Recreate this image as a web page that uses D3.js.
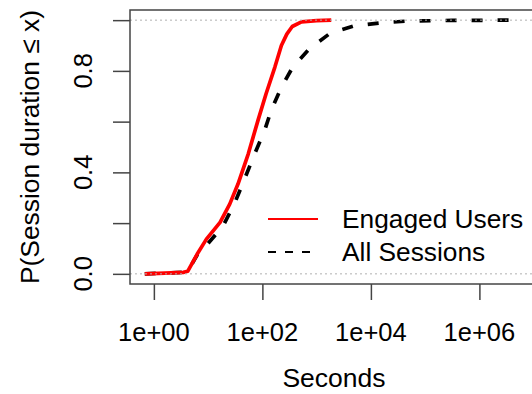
<!DOCTYPE html>
<html>
<head>
<meta charset="utf-8">
<script src="https://cdn.jsdelivr.net/npm/d3@7"></script>
<style>
  body { margin: 0; background: #fff; }
  svg text { font-family: "Liberation Sans", Arial, Helvetica, sans-serif; fill: #000; }
</style>
</head>
<body>
<svg id="chart" width="532" height="394"></svg>
<script>
// session length in seconds vs cumulative share
var engagedSecs = [0.68, 1.6, 3.5, 4.2, 6.3, 9.3, 16.6, 25, 35.5, 55, 83, 117, 170, 224, 282, 355, 525, 1000, 1860];
var engagedP    = [0, 0.003, 0.006, 0.01, 0.078, 0.137, 0.203, 0.275, 0.354, 0.473, 0.605, 0.71, 0.815, 0.9, 0.945, 0.975, 0.993, 0.998, 1.0];

var allSecs = [0.68, 3.5, 4.2, 6.3, 10, 19, 31, 47, 72, 110, 145, 224, 363, 741, 1740, 4680, 14500, 44700, 316000, 4200000];
var allP    = [0, 0.006, 0.01, 0.075, 0.12, 0.19, 0.28, 0.374, 0.473, 0.565, 0.644, 0.736, 0.815, 0.888, 0.947, 0.976, 0.989, 0.996, 0.999, 1.0];

var xTicks = [1, 100, 1e4, 1e6];
var xTickLabels = ["1e+00", "1e+02", "1e+04", "1e+06"];
var yTicks = [0, 0.2, 0.4, 0.6, 0.8, 1.0];
var yTickLabels = ["0.0", "", "0.4", "", "0.8", ""];
var seriesNames = ["Engaged Users", "All Sessions"];

var svg = d3.select("#chart");
// plot box (note: "top" is reserved on window, so use a margin object)
var box = { left: 130, right: 538, top: 10, bottom: 284 };
var fontSize = 25.5;

var x = d3.scaleLog().domain([Math.pow(10, -0.44), Math.pow(10, 7.08)]).range([box.left, box.right]);
var y = d3.scaleLinear().domain([-0.04, 1.04]).range([box.bottom, box.top]);

var line = d3.line().x(d => x(d[0])).y(d => y(d[1]));

var allData = allSecs.map((s, i) => [s, allP[i]]);
var engagedData = engagedSecs.map((s, i) => [s, engagedP[i]]);

svg.append("path")
  .datum(allData)
  .attr("d", line)
  .attr("fill", "none")
  .attr("stroke", "#000")
  .attr("stroke-width", 3.7)
  .attr("stroke-dasharray", "11,15");

svg.append("path")
  .datum(engagedData)
  .attr("d", line)
  .attr("fill", "none")
  .attr("stroke", "#ff0000")
  .attr("stroke-width", 3.7)
  .attr("stroke-linejoin", "round");

// reference lines at 0 and 1
svg.selectAll(".ref")
  .data([0, 1])
  .enter()
  .append("line")
  .attr("class", "ref")
  .attr("x1", box.left).attr("x2", box.right)
  .attr("y1", d => y(d)).attr("y2", d => y(d))
  .attr("stroke", "#b0b0b0")
  .attr("stroke-width", 1)
  .attr("stroke-dasharray", "2,3");

// box
svg.append("rect")
  .attr("x", box.left).attr("y", box.top)
  .attr("width", box.right - box.left).attr("height", box.bottom - box.top)
  .attr("fill", "none")
  .attr("stroke", "#444")
  .attr("stroke-width", 1.5);

// x axis
var xAxis = svg.append("g")
  .attr("transform", "translate(0," + box.bottom + ")")
  .call(d3.axisBottom(x).tickValues(xTicks).tickSize(16).tickPadding(0).tickFormat(""));
xAxis.select(".domain").remove();
xAxis.selectAll("line").attr("stroke", "#444").attr("stroke-width", 1.5);

svg.selectAll(".xlab")
  .data(xTicks)
  .enter()
  .append("text")
  .attr("class", "xlab")
  .attr("x", d => x(d))
  .attr("y", 341)
  .attr("text-anchor", "middle")
  .style("font-size", fontSize + "px")
  .text((d, i) => xTickLabels[i]);

// y axis
var yAxis = svg.append("g")
  .attr("transform", "translate(" + box.left + ",0)")
  .call(d3.axisLeft(y).tickValues(yTicks).tickSize(17).tickPadding(0).tickFormat(""));
yAxis.select(".domain").remove();
yAxis.selectAll("line").attr("stroke", "#444").attr("stroke-width", 1.5);

svg.selectAll(".ylab")
  .data(yTicks)
  .enter()
  .append("text")
  .attr("class", "ylab")
  .attr("transform", d => "translate(92," + y(d) + ") rotate(-90)")
  .attr("text-anchor", "middle")
  .style("font-size", fontSize + "px")
  .text((d, i) => yTickLabels[i]);

// axis titles
svg.append("text")
  .attr("x", (box.left + box.right) / 2)
  .attr("y", 387)
  .attr("text-anchor", "middle")
  .style("font-size", "26.5px")
  .text("Seconds");

svg.append("text")
  .attr("transform", "translate(38.5," + ((box.top + box.bottom) / 2) + ") rotate(-90)")
  .attr("text-anchor", "middle")
  .style("font-size", "26.4px")
  .text("P(Session duration \u2264 x)");

// legend
var legend = svg.append("g");
legend.append("line")
  .attr("x1", 268).attr("x2", 318)
  .attr("y1", 219).attr("y2", 219)
  .attr("stroke", "#ff0000").attr("stroke-width", 2);
legend.append("line")
  .attr("x1", 268).attr("x2", 310)
  .attr("y1", 252).attr("y2", 252)
  .attr("stroke", "#000").attr("stroke-width", 2)
  .attr("stroke-dasharray", "8,9");
legend.selectAll("text")
  .data(seriesNames)
  .enter()
  .append("text")
  .attr("x", 342)
  .attr("y", (d, i) => 228 + i * 33)
  .style("font-size", "26.3px")
  .text(d => d);
</script>
</body>
</html>
